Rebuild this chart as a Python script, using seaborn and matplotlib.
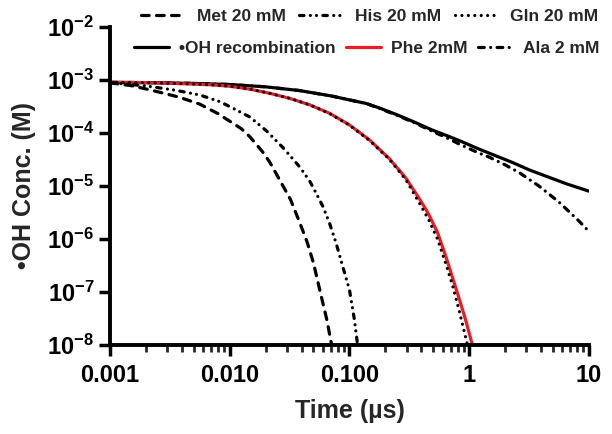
import numpy as np
import pandas as pd
import matplotlib
matplotlib.use('Agg')
import matplotlib.pyplot as plt
import seaborn as sns
from matplotlib.ticker import FuncFormatter, LogLocator, NullFormatter, NullLocator

# values (time in µs, •OH concentration in M)
recomb_t = [0.001, 0.002, 0.005, 0.01, 0.02, 0.0383, 0.07, 0.1, 0.138, 0.178, 0.25, 0.35, 0.49,
            0.643, 0.85, 1.2, 1.78, 2.28, 3.2, 4.5, 6.5, 10]
recomb_c = [9.0e-4, 8.9e-4, 8.6e-4, 8.2e-4, 7.4e-4, 6.3e-4, 5.0e-4, 4.2e-4, 3.6e-4, 2.96e-4, 2.2e-4,
            1.6e-4, 1.14e-4, 9.0e-5, 7.0e-5, 5.0e-5, 3.5e-5, 2.8e-5, 2.0e-5, 1.5e-5, 1.1e-5, 8.0e-6]

ala_t = [0.001, 0.002, 0.005, 0.01, 0.02, 0.0383, 0.07, 0.1, 0.138, 0.178, 0.25, 0.35, 0.49,
         0.643, 0.85, 1.2, 1.47, 2.0, 2.61, 3.83, 5.62, 8.25, 10]
ala_c = [9.0e-4, 8.9e-4, 8.6e-4, 8.2e-4, 7.4e-4, 6.3e-4, 5.0e-4, 4.2e-4, 3.6e-4, 2.9e-4, 2.15e-4,
         1.55e-4, 1.08e-4, 8.2e-5, 6.0e-5, 4.2e-5, 3.5e-5, 2.5e-5, 1.8e-5, 1.0e-5, 5.0e-6, 2.2e-6, 1.4e-6]

phe_t = [0.001, 0.002, 0.004, 0.007, 0.01, 0.0147, 0.0215, 0.0316, 0.0464, 0.0681, 0.1, 0.147,
         0.215, 0.297, 0.383, 0.436, 0.464, 0.544, 0.639, 0.726, 0.825, 0.939, 1.065]
phe_c = [9.0e-4, 8.9e-4, 8.5e-4, 8.1e-4, 7.6e-4, 6.7e-4, 5.6e-4, 4.5e-4, 3.4e-4, 2.35e-4, 1.42e-4,
         7.4e-5, 3.3e-5, 1.4e-5, 5.8e-6, 3.6e-6, 2.8e-6, 1.34e-6, 4.7e-7, 1.9e-7, 7.6e-8, 2.9e-8, 1.0e-8]

gln_t = [0.001, 0.002, 0.004, 0.007, 0.01, 0.0147, 0.0215, 0.0316, 0.0464, 0.0681, 0.1, 0.147,
         0.215, 0.297, 0.383, 0.436, 0.464, 0.544, 0.639, 0.726, 0.825, 0.97]
gln_c = [9.0e-4, 8.9e-4, 8.5e-4, 8.1e-4, 7.6e-4, 6.7e-4, 5.6e-4, 4.5e-4, 3.4e-4, 2.33e-4, 1.4e-4,
         7.2e-5, 3.2e-5, 1.3e-5, 4.8e-6, 2.85e-6, 2.2e-6, 1.0e-6, 3.4e-7, 1.35e-7, 4.5e-8, 1.0e-8]

his_t = [0.001, 0.002, 0.0035, 0.0056, 0.00825, 0.0107, 0.0147, 0.0202, 0.0278, 0.0383, 0.0464,
         0.0527, 0.06, 0.0681, 0.0774, 0.088, 0.1, 0.11, 0.117]
his_c = [8.9e-4, 7.7e-4, 6.4e-4, 5.2e-4, 3.9e-4, 2.9e-4, 2.0e-4, 1.1e-4, 5.3e-5, 2.3e-5, 1.25e-5,
         7.3e-6, 4.1e-6, 2.0e-6, 8.3e-7, 3.0e-7, 1.1e-7, 3.0e-8, 1.0e-8]

met_t = [0.001, 0.0015, 0.00215, 0.003, 0.0038, 0.0056, 0.008, 0.0125, 0.0147, 0.0188, 0.0216,
         0.0261, 0.0321, 0.0376, 0.0441, 0.0501, 0.057, 0.0647, 0.071]
met_c = [8.8e-4, 7.8e-4, 6.5e-4, 5.4e-4, 4.7e-4, 3.5e-4, 2.3e-4, 1.2e-4, 8.5e-5, 4.4e-5, 2.8e-5,
         1.3e-5, 5.6e-6, 2.3e-6, 9.0e-7, 3.5e-7, 1.0e-7, 3.0e-8, 1.0e-8]

names = ['•OH recombination', 'Ala 2 mM', 'Phe 2mM', 'Gln 20 mM', 'His 20 mM', 'Met 20 mM']
times = [recomb_t, ala_t, phe_t, gln_t, his_t, met_t]
concs = [recomb_c, ala_c, phe_c, gln_c, his_c, met_c]

df = pd.concat([pd.DataFrame({'time': t, 'conc': c, 'series': n})
                for n, t, c in zip(names, times, concs)], ignore_index=True)

palette = {n: 'black' for n in names}
palette['Phe 2mM'] = '#ec1c24'
dashes = {
    '•OH recombination': '',
    'Phe 2mM': '',
    'Ala 2 mM': (1.8, 2.0, 0.01, 2.0),
    'Gln 20 mM': (0.01, 2.0),
    'His 20 mM': (1.4, 2.0, 0.01, 1.9, 0.01, 2.0),
    'Met 20 mM': (2.4, 2.3),
}

sns.set_style('ticks')
plt.rcParams['font.family'] = ['Liberation Sans', 'DejaVu Sans']
plt.rcParams['font.weight'] = 'bold'
plt.rcParams['axes.labelweight'] = 'bold'
plt.rcParams['mathtext.fontset'] = 'custom'
plt.rcParams['mathtext.rm'] = 'Liberation Sans:bold'
plt.rcParams['mathtext.bf'] = 'Liberation Sans:bold'

fig, ax = plt.subplots(figsize=(6.12, 4.34), dpi=100)
fig.subplots_adjust(left=0.18, right=0.962, bottom=0.205, top=0.938)

sns.lineplot(data=df, x='time', y='conc', hue='series', style='series',
             hue_order=names, style_order=names, palette=palette, dashes=dashes,
             estimator=None, sort=False, linewidth=2.3, legend=False, ax=ax,
             dash_capstyle='round', solid_capstyle='round')
lines = dict(zip(names, ax.lines))

ax.set_xscale('log')
ax.set_yscale('log')
ax.set_xlim(0.001, 10)
ax.set_ylim(1e-8, 1e-2)

ax.set_xticks([0.001, 0.01, 0.1, 1, 10], labels=['0.001', '0.010', '0.100', '1', '10'])
ax.xaxis.set_minor_locator(LogLocator(base=10, subs=np.arange(2, 10)))
ax.xaxis.set_minor_formatter(NullFormatter())
ax.set_yticks([1e-8, 1e-7, 1e-6, 1e-5, 1e-4, 1e-3, 1e-2])
ax.yaxis.set_major_formatter(FuncFormatter(lambda v, p: r'$\mathbf{10^{%d}}$' % round(np.log10(v))))
ax.yaxis.set_minor_locator(NullLocator())

ax.tick_params(which='major', direction='out', length=8, width=2.5, labelsize=17, colors='black')
ax.tick_params(axis='x', which='major', pad=6)
ax.tick_params(which='minor', direction='out', length=5, width=2)
sns.despine(ax=ax)
for s in ['left', 'bottom']:
    ax.spines[s].set_linewidth(2.8)
    ax.spines[s].set_color('black')

ax.set_xlabel('Time (µs)', fontsize=18, labelpad=8)
ax.set_ylabel('•OH Conc. (M)', fontsize=18, labelpad=8)

leg_kw = dict(ncol=3, loc='center right', frameon=False, fontsize=12.5,
              borderpad=0, borderaxespad=0)
row1 = ['Met 20 mM', 'His 20 mM', 'Gln 20 mM']
row2 = ['•OH recombination', 'Phe 2mM', 'Ala 2 mM']
fig.legend([lines[n] for n in row1], row1, bbox_to_anchor=(0.978, 0.963),
           handlelength=2.4, handletextpad=0.8, columnspacing=0.8, **leg_kw)
fig.legend([lines[n] for n in row2], row2, bbox_to_anchor=(0.98, 0.889),
           handlelength=2.0, handletextpad=0.6, columnspacing=0.6, **leg_kw)

fig.savefig('out.png', dpi=100)
